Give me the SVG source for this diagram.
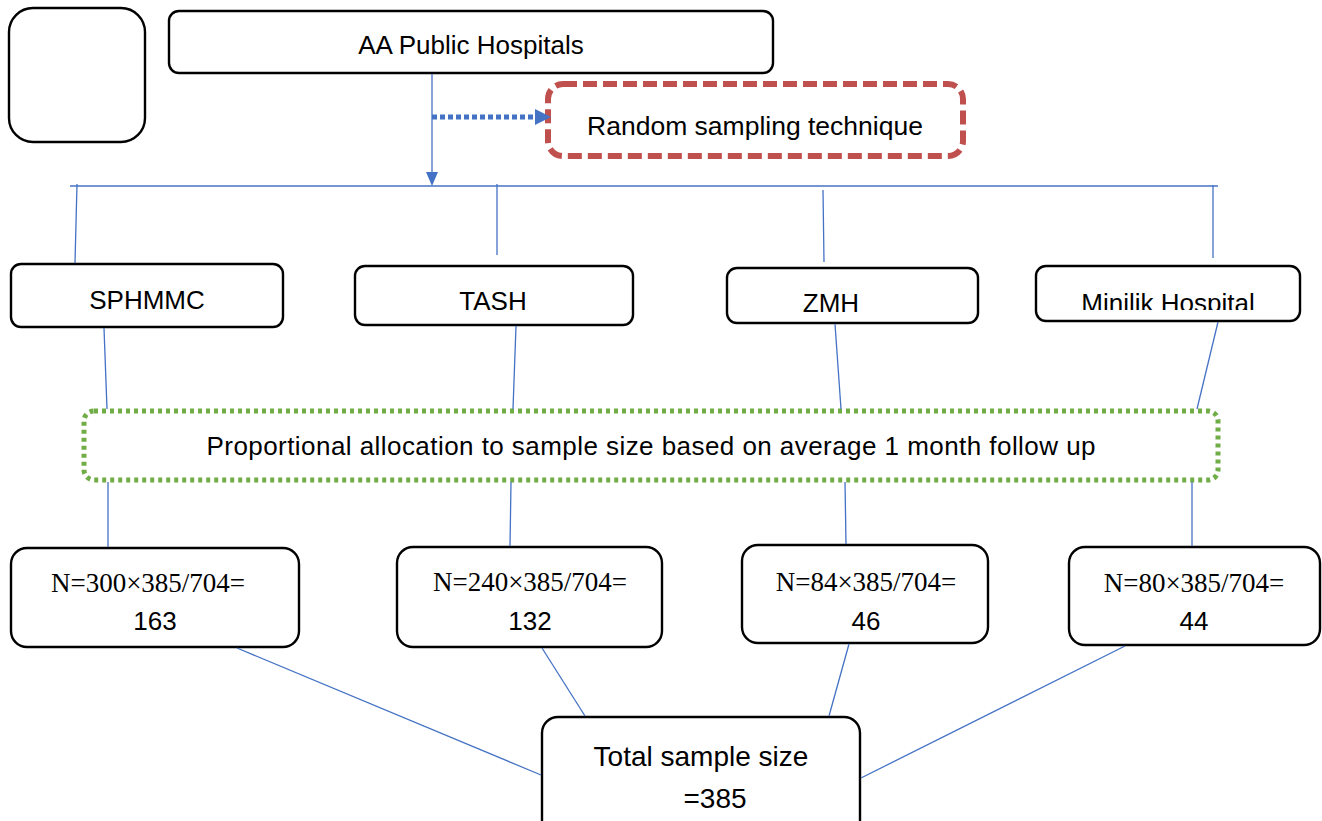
<svg xmlns="http://www.w3.org/2000/svg" width="1322" height="821" viewBox="0 0 1322 821">
<style>
.box{fill:#fff;stroke:#000;stroke-width:2.4}
.t{font-family:"Liberation Sans",Arial,sans-serif;font-size:26px;fill:#000;text-anchor:middle}
.tm{font-family:"Liberation Serif","Times New Roman",serif;font-size:27px;fill:#000;text-anchor:middle}
.c{stroke:#4472C4;stroke-width:1.3;fill:none}
.head{fill:#4472C4}
</style>
<defs>
<clipPath id="mclip"><rect x="1036" y="266" width="264" height="44"/></clipPath>
</defs>
<g id="blank"><rect class="box" x="9" y="8" width="136" height="134" rx="24"/></g>
<g id="aa"><rect class="box" x="169" y="11" width="604" height="62" rx="10"/><text class="t" x="471" y="54">AA Public Hospitals</text></g>
<g id="random"><rect x="548" y="84" width="415" height="72" rx="15" fill="#fff" stroke="#C0504D" stroke-width="6" stroke-dasharray="14 6"/><text class="t" x="755" y="135" style="font-size:26.5px">Random sampling technique</text></g>
<g id="sphmmc"><rect class="box" x="11" y="264" width="272" height="63" rx="10"/><text class="t" x="147" y="309">SPHMMC</text></g>
<g id="tash"><rect class="box" x="355" y="266" width="278" height="59" rx="10"/><text class="t" x="493" y="310">TASH</text></g>
<g id="zmh"><rect class="box" x="727" y="268" width="251" height="55" rx="10"/><text class="t" x="831" y="312">ZMH</text></g>
<g id="minilik"><rect class="box" x="1036" y="266" width="264" height="55" rx="10"/><text class="t" x="1168" y="312" clip-path="url(#mclip)">Minilik Hospital</text></g>
<g id="proportional"><rect x="84" y="411" width="1134" height="69" rx="10" fill="#fff" stroke="#70AD47" stroke-width="5" stroke-dasharray="4 4"/><text class="t" x="651" y="455" textLength="889" lengthAdjust="spacing">Proportional allocation to sample size based on average 1 month follow up</text></g>
<g id="n1"><rect class="box" x="11" y="548" width="288" height="99" rx="16"/><text class="tm" x="148" y="592">N=300×385/704=</text><text class="t" x="155" y="630">163</text></g>
<g id="n2"><rect class="box" x="397" y="547" width="265" height="100" rx="16"/><text class="tm" x="530" y="591">N=240×385/704=</text><text class="t" x="530" y="630">132</text></g>
<g id="n3"><rect class="box" x="742" y="545" width="246" height="98" rx="16"/><text class="tm" x="866" y="591">N=84×385/704=</text><text class="t" x="866" y="630">46</text></g>
<g id="n4"><rect class="box" x="1069" y="547" width="251" height="98" rx="16"/><text class="tm" x="1194" y="592">N=80×385/704=</text><text class="t" x="1194" y="630">44</text></g>
<g id="total"><rect class="box" x="542" y="717" width="318" height="120" rx="16"/><text class="t" x="701" y="766" style="font-size:28px">Total sample size</text><text class="t" x="715" y="808" style="font-size:28px">=385</text></g>
<g id="connectors">
<line class="c" x1="432" y1="74" x2="432" y2="174"/>
<polygon class="head" points="426,172 438,172 432,186"/>
<line x1="432" y1="117" x2="536" y2="117" stroke="#4472C4" stroke-width="5" stroke-dasharray="5 3"/>
<polygon class="head" points="535,109 551,117 535,125"/>
<line class="c" x1="70" y1="186" x2="1218" y2="186"/>
<line class="c" x1="77" y1="184" x2="75" y2="263"/>
<line class="c" x1="497" y1="184" x2="497" y2="255"/>
<line class="c" x1="823" y1="190" x2="824" y2="262"/>
<line class="c" x1="1213" y1="185" x2="1213" y2="258"/>
<line class="c" x1="104" y1="328" x2="107" y2="409"/>
<line class="c" x1="516" y1="326" x2="513" y2="409"/>
<line class="c" x1="835" y1="324" x2="841" y2="409"/>
<line class="c" x1="1218" y1="322" x2="1197" y2="409"/>
<line class="c" x1="108" y1="482" x2="108" y2="547"/>
<line class="c" x1="511" y1="482" x2="510" y2="546"/>
<line class="c" x1="845" y1="482" x2="846" y2="544"/>
<line class="c" x1="1192" y1="482" x2="1192" y2="546"/>
<line class="c" x1="237" y1="648" x2="541" y2="775"/>
<line class="c" x1="542" y1="648" x2="585" y2="716"/>
<line class="c" x1="849" y1="644" x2="829" y2="716"/>
<line class="c" x1="1125" y1="646" x2="861" y2="778"/>
</g>
</svg>
